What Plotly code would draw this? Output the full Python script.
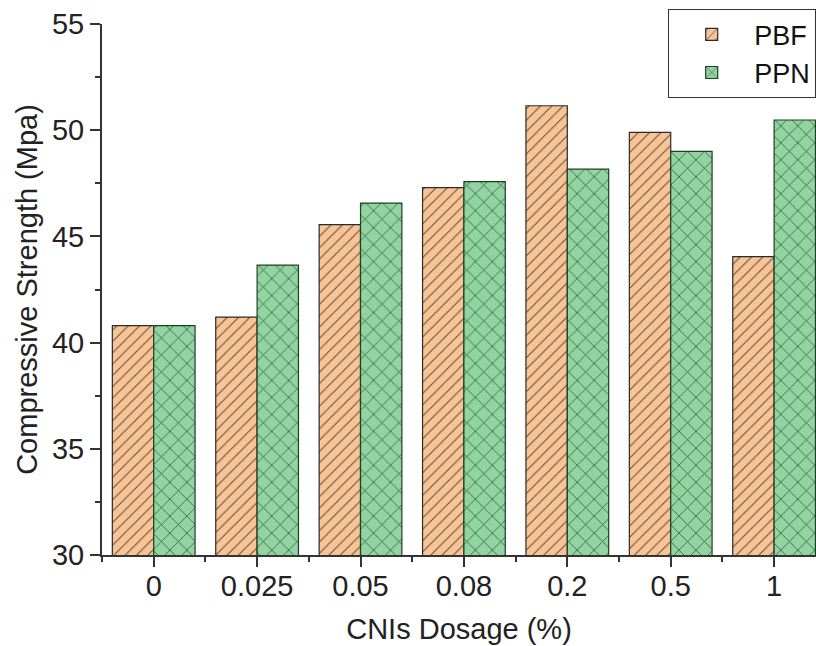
import plotly.graph_objects as go

categories = ["0", "0.025", "0.05", "0.08", "0.2", "0.5", "1"]
pbf = [40.8, 41.2, 45.55, 47.3, 51.15, 49.9, 44.05]
ppn = [40.8, 43.65, 46.57, 47.58, 48.17, 49.0, 50.48]
y_ticks = [30, 35, 40, 45, 50, 55]

xpos = list(range(len(categories)))
FAM = "Liberation Sans, Arial, sans-serif"

fig = go.Figure()
fig.add_trace(go.Bar(
    x=xpos, y=pbf, name="PBF",
    marker=dict(
        color="#F8C395",
        line=dict(color="#2b2b2b", width=1.2),
        pattern=dict(shape="/", fgcolor="#5a4a3a", bgcolor="#F8C395",
                     size=8, solidity=0.12, fillmode="replace"),
    ),
))
fig.add_trace(go.Bar(
    x=xpos, y=ppn, name="PPN",
    marker=dict(
        color="#93D3A2",
        line=dict(color="#1f3f25", width=1.2),
        pattern=dict(shape="x", fgcolor="#1e5a2c", bgcolor="#93D3A2",
                     size=12, solidity=0.12, fillmode="replace"),
    ),
))

tick_font = dict(family=FAM, size=29, color="#222")
title_font = dict(family=FAM, size=29, color="#222")

fig.update_layout(
    width=816, height=646,
    margin=dict(l=102, r=0, t=24, b=91),
    paper_bgcolor="white", plot_bgcolor="white",
    barmode="group", bargap=0.2, bargroupgap=0,
    font=tick_font,
    legend=dict(
        x=1.0, y=1.028, xanchor="right", yanchor="top",
        bordercolor="#333", borderwidth=1.2, bgcolor="white",
        font=dict(family=FAM, size=27, color="#111"),
        itemwidth=75, tracegroupgap=0,
    ),
    xaxis=dict(
        range=[-0.5, 6.405],
        tickmode="array", tickvals=xpos, ticktext=categories,
        ticks="outside", ticklen=10, tickwidth=2, tickcolor="#333",
        ticklabelstandoff=-6,
        showline=True, linecolor="#333", linewidth=2,
        showgrid=False, zeroline=False,
        minor=dict(tick0=-0.5, dtick=1, ticks="outside", ticklen=5,
                   tickwidth=2, tickcolor="#333", showgrid=False),
        title=dict(text="CNIs Dosage (%)", standoff=18, font=title_font),
        tickfont=tick_font,
    ),
    yaxis=dict(
        range=[30, 55],
        tickmode="array", tickvals=y_ticks,
        ticks="outside", ticklen=10, tickwidth=2, tickcolor="#333",
        showline=True, linecolor="#333", linewidth=2,
        showgrid=False, zeroline=False,
        minor=dict(tick0=32.5, dtick=5, ticks="outside", ticklen=5,
                   tickwidth=2, tickcolor="#333", showgrid=False),
        title=dict(text="Compressive Strength (Mpa)", standoff=6, font=title_font),
        tickfont=tick_font,
    ),
)

fig.write_html("out.html")
